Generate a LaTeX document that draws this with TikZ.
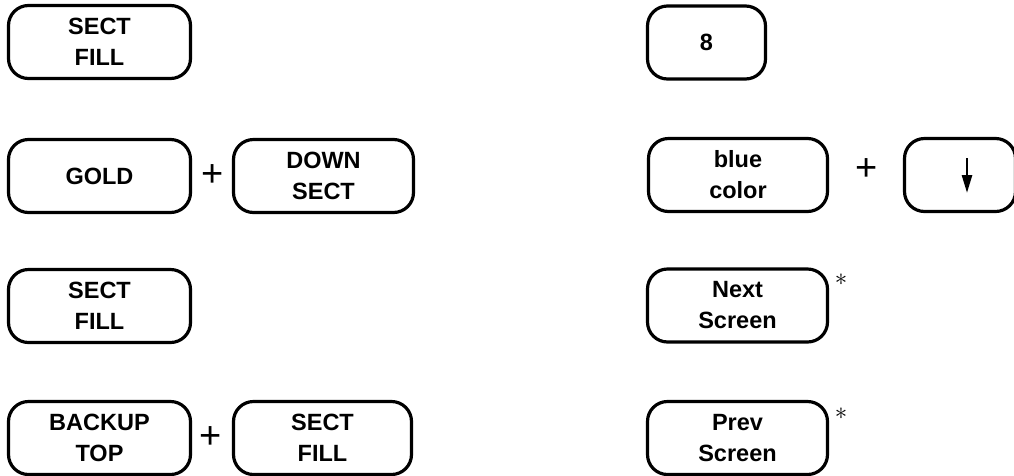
\documentclass[tikz,border=0pt]{standalone}
\usepackage{fontspec}
\setmainfont{Liberation Sans}
\usetikzlibrary{calc,arrows.meta}

\begin{document}
\begin{tikzpicture}[x=1pt, y=-1pt,
    key/.style={draw, line width=3.2pt, rounded corners=20pt, align=center,
        minimum height=73, inner sep=0pt, font=\fontsize{23.5}{31}\selectfont\bfseries},
    plus/.style={inner sep=0pt, font=\fontsize{38}{38}\selectfont},
    star/.style={inner sep=0pt, font=\fontsize{32}{32}\selectfont}]
    \useasboundingbox(0,0)rectangle(1014,475);
    % left column
    \node[key, minimum width=182](sectA)at(99.5,42){SECT\\FILL};
    \node[key, minimum width=182](gold)at(99.5,176){GOLD};
    \node[plus](plusA)at(213,176){+};
    \node[key, minimum width=180](down)at(323.5,176){DOWN\\SECT};
    \node[key, minimum width=182](sectB)at(99.5,306){SECT\\FILL};
    \node[key, minimum width=182](backup)at(99.5,438){BACKUP\\TOP};
    \node[plus](plusB)at(211,438){+};
    \node[key, minimum width=178](sectC)at(322.5,438){SECT\\FILL};
    % right column
    \node[key, minimum width=118](eight)at(706.5,42.5){8};
    \node[key, minimum width=179](blue)at(738,175){blue\\color};
    \node[plus](plusC)at(867,170){+};
    \node[key, minimum width=111](dn)at(960,175){};
    \node[key, minimum width=180](next)at(737.5,305.5){Next\\Screen};
    \node[star](starA)at(841,280){$\ast$};
    \node[key, minimum width=180](prev)at(737.5,438){Prev\\Screen};
    \node[star](starB)at(841,414){$\ast$};
    % arrow on the key
    \path[draw, line width=2.6pt, -{Triangle[length=18pt, width=10pt]}]($(dn.center)+(7,-17)$)to($(dn.center)+(7,18)$);
\end{tikzpicture}
\end{document}
